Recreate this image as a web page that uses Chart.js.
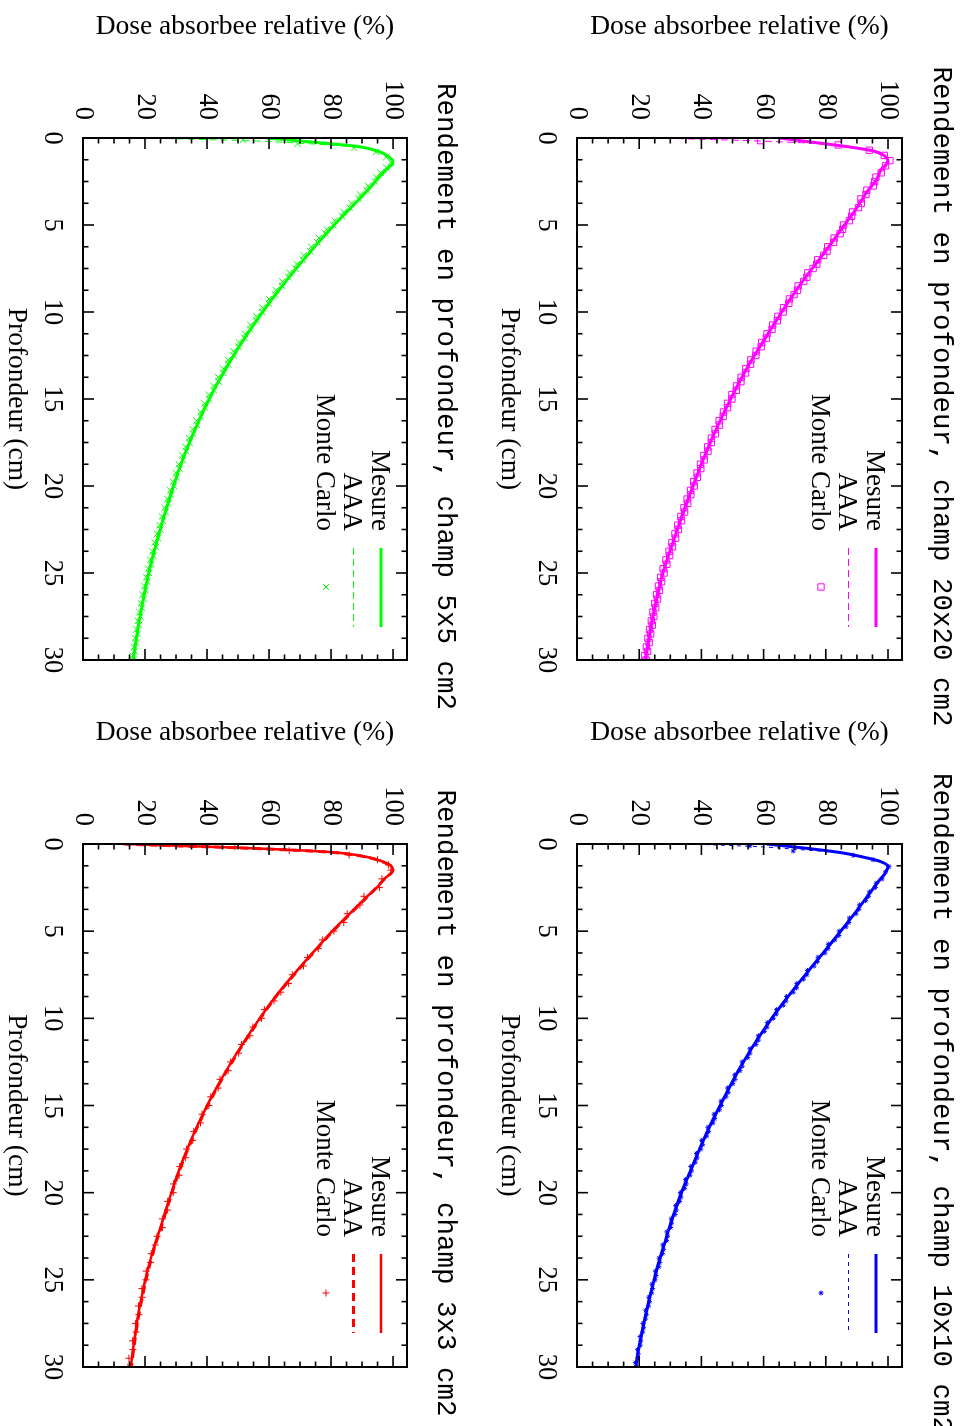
<!DOCTYPE html>
<html><head><meta charset="utf-8">
<script src="https://cdn.jsdelivr.net/npm/chart.js@4/dist/chart.umd.min.js"></script>
<style>
html,body{margin:0;padding:0;background:#fff;}
body{width:962px;height:1426px;overflow:hidden;position:relative;}
#wrap{position:absolute;left:0;top:0;width:1426px;height:962px;transform-origin:0 0;transform:translate(962px,0) rotate(90deg);background:#fff;}
#wrap canvas{position:absolute;}
</style></head><body><div id="wrap">
<canvas id="c20" width="780" height="481" style="left:0;top:0"></canvas>
<canvas id="c5" width="780" height="481" style="left:0;top:481px"></canvas>
<canvas id="c10" width="713" height="481" style="left:713px;top:0"></canvas>
<canvas id="c3" width="713" height="481" style="left:713px;top:481px"></canvas>
</div>
<script>
const depthTicks = [0,5,10,15,20,25,30];
const doseTicks = [0,20,40,60,80,100];
const legendLabels = ['Mesure','AAA','Monte Carlo'];
const xTitle = 'Profondeur (cm)';
const yTitle = 'Dose absorbee relative (%)';
const panelTitles = ['Rendement en profondeur, champ 20x20 cm2','Rendement en profondeur, champ 10x10 cm2','Rendement en profondeur, champ 5x5 cm2','Rendement en profondeur, champ 3x3 cm2'];

// Monte Carlo depth grid (cm), 0.25 cm steps from 2 to 30
const mcGrid = [2,2.25,2.5,2.75,3,3.25,3.5,3.75,4,4.25,4.5,4.75,5,5.25,5.5,5.75,6,6.25,6.5,6.75,7,7.25,7.5,7.75,8,8.25,8.5,8.75,9,9.25,9.5,9.75,10,10.25,10.5,10.75,11,11.25,11.5,11.75,12,12.25,12.5,12.75,13,13.25,13.5,13.75,14,14.25,14.5,14.75,15,15.25,15.5,15.75,16,16.25,16.5,16.75,17,17.25,17.5,17.75,18,18.25,18.5,18.75,19,19.25,19.5,19.75,20,20.25,20.5,20.75,21,21.25,21.5,21.75,22,22.25,22.5,22.75,23,23.25,23.5,23.75,24,24.25,24.5,24.75,25,25.25,25.5,25.75,26,26.25,26.5,26.75,27,27.25,27.5,27.75,28,28.25,28.5,28.75,29,29.25,29.5,29.75,30];

// 20x20
const mesDepth20 = [0,0.25,0.5,0.75,1,1.35,1.8,2.5,3,4,5,6,7,8,9,10,11,12,13,14,15,16,17,18,19,20,21,22,23,24,25,26,27,28,29,30];
const mes20 = [65,76,87,95.5,98.7,100,97.8,96,93.6,90,86,82,77.8,73.5,69.5,65.8,62.3,58.8,55.4,52.3,49.4,46.7,44.1,41.7,39.4,37.3,35.2,33.2,31.3,29.4,27.6,26.2,25,23.9,22.9,21.9];
const aaaDepth20 = [0,0.15,0.3,0.5,0.75,1,1.4,2,3,4,5,6,7,8,9,10,11,12,13,14,15,16,17,18,19,20,21,22,23,24,25,26,27,28,29,30];
const aaa20 = [25,55,75,86,94,98,100,98,93.8,90.2,86.2,82.1,77.7,73.6,69.6,65.9,62.4,58.9,55.5,52.4,49.5,46.8,44.2,41.8,39.5,37.4,35.3,33.3,31.4,29.5,27.7,26.3,25.1,24,23,22];
const mcDepth20 = [0.15,0.4,0.7,1,1.3,1.6].concat(mcGrid);
const mc20 = [59,84,94,98.8,100.6,99.2,
 97.8,96.1,95.7,95.3, 93.2,92.9,91.3,91.4, 90.5,88.6,88.3,87.6, 85.7,85.4,84.6,82.7, 82.5,80.6,80.4,79.3,
 77.4,77.1,75.9,74.2, 73.9,72.9,71.1,70.9, 69.8,68.3,68.1,66.4, 66.3,64.6,64.4,62.9, 62.7,61.1,60.9,59.4,
 59.2,57.6,57.5,55.9, 55.8,54.3,54.2,52.8, 52.7,51.3,51.2,49.8, 49.8,48.4,48.4,47.1, 47.0,45.7,45.8,44.4,
 44.5,43.2,43.2,42.0, 42.1,40.8,40.9,39.7, 39.8,38.6,38.7,37.5, 37.7,36.5,36.6,35.4, 35.6,34.4,34.6,33.4,
 33.6,32.4,32.6,31.5, 31.7,30.5,30.7,29.6, 29.8,28.6,28.9,27.7, 28.0,26.9,27.2,26.2, 26.5,25.6,25.9,25.0,
 25.3,24.4,24.7,23.9, 24.2,23.3,23.7,22.8, 23.2,22.3,22.7,21.8, 22.2];

// 10x10
const mesDepth10 = [0,0.25,0.5,0.75,1,1.3,1.7,2,3,4,5,6,7,8,9,10,11,12,13,14,15,16,17,18,19,20,21,22,23,24,25,26,27,28,29,30];
const mes10 = [61,74,85,92,97.5,100,99,97.6,93.4,89.2,84.8,80.3,75.7,71.2,66.8,62.6,58.8,55.2,51.9,48.9,46,43.2,40.6,38.2,35.9,33.6,31.6,29.7,28,26.3,24.8,23.4,22.1,20.9,19.8,18.9];
const aaaDepth10 = [0,0.15,0.3,0.5,0.75,1,1.3,2,3,4,5,6,7,8,9,10,11,12,13,14,15,16,17,18,19,20,21,22,23,24,25,26,27,28,29,30];
const aaa10 = [36,58,70,84,92,97,99.8,97.5,93.5,89.3,84.9,80.4,75.8,71.3,66.9,62.7,58.9,55.3,52,49,46.1,43.3,40.7,38.3,36,33.7,31.7,29.8,28.1,26.4,24.9,23.5,22.2,21,19.9,19];
const mcDepth10 = [0.1,0.4,0.65,0.9,1.3,1.6].concat(mcGrid);
const mc10 = [55.6,69.5,88.8,95.2,100.3,99.2,
 98.1,96.2,95.9,94.0, 93.7,92.8,90.8,90.6, 89.7,87.6,87.4,86.5, 84.3,84.2,82.9,80.8, 80.7,79.7,77.5,77.3,
 76.2,74.1,73.9,72.8, 70.7,70.6,69.5,67.4, 67.2,66.3,64.2,64.1, 63.1,61.2,61.1,60.2, 58.3,58.3,57.5,55.6,
 55.6,54.9,53.1,53.1, 52.4,50.7,50.8,50.1, 48.4,48.6,47.9,46.3, 46.4,45.8,44.1,44.3, 43.7,42.1,42.3,41.7,
 40.1,40.4,39.8,38.4, 38.6,38.0,36.6,36.8, 36.3,34.9,35.1,34.6, 33.2,33.4,33.0,31.7, 31.9,31.5,30.3,30.4,
 30.1,28.9,29.1,28.8, 27.6,27.8,27.5,26.4, 26.6,26.3,25.2,25.4, 25.1,24.1,24.3,24.0, 23.1,23.3,23.0,22.1,
 22.3,22.0,21.2,21.4, 21.1,20.3,20.5,20.3, 19.5,19.7,19.5,18.8, 19.0];

// 5x5
const mesDepth5 = [0,0.25,0.5,0.75,1,1.4,1.7,2,2.5,3,4,5,6,7,8,9,10,11,12,13,14,15,16,17,18,19,20,21,22,23,24,25,26,27,28,29,30];
const mes5 = [59,75,89,95,98,100,98.6,96.8,94.3,91.8,86.4,81,75.9,71.1,66.5,62.1,57.9,54,50.3,46.9,43.7,40.7,38,35.5,33.2,31.1,29.2,27.4,25.7,24.1,22.6,21.2,20,18.9,17.9,17,16.2];
const aaaDepth5 = [0,0.15,0.3,0.5,0.75,1,1.4,2,3,4,5,6,7,8,9,10,11,12,13,14,15,16,17,18,19,20,21,22,23,24,25,26,27,28,29,30];
const aaa5 = [19.5,52,70,87,94.5,97.8,100,97,92.1,86.7,81.3,76.2,71.3,66.7,62.3,58.1,54.2,50.5,47.1,43.9,40.9,38.2,35.7,33.4,31.3,29.4,27.6,25.9,24.3,22.8,21.4,20.2,19.1,18.1,17.2,16.4];
const mcDepth5 = [0.1,0.33,0.56,0.8,1.1,1.4,1.7].concat(mcGrid);
const mc5 = [51.6,69.2,87.4,94.5,97.8,99.3,97.8,
 96.0,94.6,94.1,91.9, 91.5,89.4,88.9,86.6, 86.0,84.1,83.5,81.2, 80.7,78.6,78.2,76.1, 75.6,73.6,73.3,71.2,
 70.9,68.9,68.6,66.6, 66.3,64.3,64.2,62.2, 62.0,60.0,59.9,57.9, 57.8,55.9,55.9,54.0, 53.9,52.2,52.1,50.3,
 50.2,48.5,48.6,46.8, 46.9,45.2,45.3,43.6, 43.7,42.1,42.2,40.6, 40.7,39.2,39.4,37.9, 38.0,36.6,36.8,35.4,
 35.5,34.2,34.4,33.1, 33.3,32.0,32.2,30.9, 31.2,29.9,30.2,29.0, 29.3,28.1,28.4,27.2, 27.5,26.3,26.7,25.5,
 25.8,24.7,25.0,23.9, 24.2,23.1,23.5,22.4, 22.7,21.7,22.0,21.0, 21.3,20.4,20.7,19.8, 20.1,19.2,19.6,18.7,
 19.0,18.2,18.5,17.7, 18.0,17.2,17.6,16.8, 17.1,16.4,16.7,16.0, 16.3];

// 3x3
const mesDepth3 = [0,0.1,0.2,0.3,0.45,0.6,0.8,1,1.2,1.5,2,2.5,3,4,5,6,7,8,9,10,11,12,13,14,15,16,17,18,19,20,21,22,23,24,25,26,27,28,29,30];
const mes3 = [14,30,48,62,79,87,93,96.5,99,100,97.2,94.8,91.7,86,80.4,75.3,70.3,65.5,61,57,53.2,49.6,46.2,43,40,37.3,34.8,32.5,30.4,28.5,26.7,25,23.1,21.5,20.1,18.9,17.8,16.9,16.1,15.4];
const aaaDepth3 = [0,0.1,0.2,0.3,0.45,0.6,0.8,1,1.2,1.5,2,3,4,5,6,7,8,9,10,11,12,13,14,15,16,17,18,19,20,21,22,23,24,25,26,27,28,29,30];
const aaa3 = [13,29,47,61,78,86.5,92.6,96.3,98.8,99.9,97.3,91.9,86.2,80.6,75.5,70.5,65.7,61.2,57.2,53.4,49.8,46.4,43.2,40.2,37.5,35,32.7,30.6,28.7,26.9,25.2,23.3,21.7,20.3,19.1,18,17.1,16.3,15.6];
const mcDepth3 = [0.15,0.38,0.63,0.9,1.2,1.5,2,2.5,3,3.5,4,4.5,5,5.5,6,6.5,7,7.5,8,8.5,9,9.5,10,10.5,11,11.5,12,12.5,13,13.5,14,14.5,15,15.5,16,16.5,17,17.5,18,18.5,19,19.5,20,20.5,21,21.5,22,22.5,23,23.5,24,24.5,25,25.5,26,26.5,27,27.5,28,28.5,29,29.5,30];
const mc3 = [49,66.5,85.8,95,98.5,99.3,96.4,95.6,90.6,89.3,85.2,84.1,80.9,77.2,75.9,72.4,71.1,67.5,66.3,63.8,61.6,58.5,57.6,54.8,53.8,51.1,50.2,47.6,46.8,44.2,43.6,41.2,40.6,38.4,37.9,35.7,35.4,33.4,33.1,31.2,31.0,29.2,29.1,27.3,27.3,25.6,25.6,23.9,23.3,22.0,21.8,20.4,20.3,19.0,19.1,17.9,18.0,16.9,17.1,16.0,16.1,14.8,14.5];

const SERIF = "'Liberation Serif', 'Times New Roman', serif";
Chart.defaults.font.family = SERIF;
Chart.defaults.color = '#000';

function pts(xs, ys){ return xs.map((d,i)=>({x:d, y:ys[i]})); }

const framePlugin = {
  id:'frame',
  afterDatasetsDraw(chart){
    const {ctx, chartArea:a, scales:{x, y}} = chart;
    ctx.save();
    ctx.strokeStyle = '#000'; ctx.lineWidth = 1.6;
    const seg = (x1,y1,x2,y2)=>{ctx.beginPath();ctx.moveTo(x1,y1);ctx.lineTo(x2,y2);ctx.stroke();};
    const sub = arr => { const out=[]; for(let i=0;i<arr.length-1;i++){ const st=(arr[i+1]-arr[i])/4; for(let k=1;k<4;k++) out.push(arr[i]+k*st);} return out; };
    depthTicks.forEach(v=>{const p=x.getPixelForValue(v); seg(p,a.bottom,p,a.bottom-11); seg(p,a.top,p,a.top+11);});
    sub(depthTicks).forEach(v=>{const p=x.getPixelForValue(v); seg(p,a.bottom,p,a.bottom-5.5); seg(p,a.top,p,a.top+5.5);});
    doseTicks.forEach(v=>{const p=y.getPixelForValue(v); seg(a.left,p,a.left+11,p); seg(a.right,p,a.right-11,p);});
    sub(doseTicks).forEach(v=>{const p=y.getPixelForValue(v); seg(a.left,p,a.left+5.5,p); seg(a.right,p,a.right-5.5,p);});
    ctx.lineWidth = 2;
    ctx.strokeRect(a.left, a.top, a.width, a.height);
    ctx.restore();
  }
};

const legendPlugin = {
  id:'legendBox',
  afterDatasetsDraw(chart){
    const {ctx, chartArea:a} = chart;
    const rows = [26, 53.5, 81];
    ctx.save();
    ctx.font = "27px " + SERIF;
    ctx.textAlign = 'right'; ctx.textBaseline = 'middle';
    chart.data.datasets.forEach((ds,i)=>{
      const yy = a.top + rows[i];
      ctx.fillStyle = '#000';
      ctx.fillText(ds.label, a.left + 393, yy + 2);
      ctx.strokeStyle = ds.borderColor;
      if (ds.showLine) {
        ctx.lineWidth = ds.borderWidth;
        ctx.setLineDash(ds.borderDash || []);
        ctx.beginPath(); ctx.moveTo(a.left + 410, yy); ctx.lineTo(a.left + 489, yy); ctx.stroke();
        ctx.setLineDash([]);
      } else {
        ctx.lineWidth = 1;
        ctx.fillStyle = 'rgba(0,0,0,0)';
        Chart.helpers.drawPoint(ctx, {pointStyle: ds.pointStyle, radius: ds.pointRadius, borderWidth: 1, rotation: 0}, a.left + 449, yy);
      }
    });
    ctx.restore();
  }
};

const titlePlugin = {
  id:'panelTitle',
  afterDraw(chart, args, opts){
    const {ctx, chartArea:a} = chart;
    ctx.save();
    ctx.font = "27.5px 'Liberation Mono', monospace";
    ctx.fillStyle = '#000';
    ctx.textAlign = 'center'; ctx.textBaseline = 'middle';
    ctx.fillText(opts.text, (a.left + a.right)/2 - 2.5, opts.y);
    ctx.restore();
  }
};

const panels = [
  {id:'c20', w:780, title:panelTitles[0], color:'#ff00ff', mesD:mesDepth20, mesV:mes20, aaaD:aaaDepth20, aaaV:aaa20, mcD:mcDepth20, mcV:mc20, ps:'rect', pr:4.5, mesW:3, aaaW:1, dash:[7,4],
   g:{left:138, right:660, top:60, bottom:385, titleY:21, yTitleX:27, xTitleY:453}},
  {id:'c10', w:713, title:panelTitles[1], color:'#0000ff', mesD:mesDepth10, mesV:mes10, aaaD:aaaDepth10, aaaV:aaa10, mcD:mcDepth10, mcV:mc10, ps:'star', pr:2.5, mesW:3, aaaW:1, dash:[4,4],
   g:{left:131, right:654, top:60, bottom:385, titleY:21, yTitleX:20, xTitleY:453}},
  {id:'c5', w:780, title:panelTitles[2], color:'#00ff00', mesD:mesDepth5, mesV:mes5, aaaD:aaaDepth5, aaaV:aaa5, mcD:mcDepth5, mcV:mc5, ps:'crossRot', pr:4.5, mesW:3, aaaW:1, dash:[7,4],
   g:{left:138, right:660, top:74, bottom:398, titleY:36, yTitleX:27, xTitleY:466}},
  {id:'c3', w:713, title:panelTitles[3], color:'#ff0000', mesD:mesDepth3, mesV:mes3, aaaD:aaaDepth3, aaaV:aaa3, mcD:mcDepth3, mcV:mc3, ps:'cross', pr:3.5, mesW:2.5, aaaW:3, dash:[8,5],
   g:{left:131, right:654, top:74, bottom:398, titleY:36, yTitleX:20, xTitleY:466}}
];

panels.forEach(p=>{
  const g = p.g;
  new Chart(document.getElementById(p.id), {
    type:'scatter',
    data:{datasets:[
      {label:legendLabels[0], data:pts(p.mesD,p.mesV), showLine:true, borderColor:p.color, backgroundColor:p.color, borderWidth:p.mesW, pointRadius:0, cubicInterpolationMode:'monotone', order:3},
      {label:legendLabels[1], data:pts(p.aaaD,p.aaaV), showLine:true, borderColor:p.color, backgroundColor:p.color, borderWidth:p.aaaW, borderDash:p.dash, pointRadius:0, cubicInterpolationMode:'monotone', order:2},
      {label:legendLabels[2], data:pts(p.mcD,p.mcV), showLine:false, borderColor:p.color, backgroundColor:'rgba(0,0,0,0)', pointStyle:p.ps, pointRadius:p.pr, pointBorderWidth:1, order:1}
    ]},
    options:{
      responsive:false, animation:false, devicePixelRatio:1,
      layout:{padding:{left:0, right:p.w - g.right, top:g.top, bottom:0}},
      plugins:{
        legend:{display:false}, tooltip:{enabled:false}, title:{display:false},
        panelTitle:{text:p.title, y:g.titleY}
      },
      scales:{
        x:{type:'linear', position:'bottom', min:0, max:30,
          grid:{display:false, drawTicks:false}, border:{display:false},
          afterBuildTicks:s=>{ s.ticks = depthTicks.map(v=>({value:v})); },
          afterFit:s=>{ s.height = 481 - g.bottom; },
          ticks:{font:{size:26.5}, padding:15, maxRotation:0, autoSkip:false, color:'#000'},
          title:{display:true, text:xTitle, color:'#000', font:{size:27.5, lineHeight:1.2}, padding:{top:0, bottom:Math.max(0, 481 - g.xTitleY - 16.5)}}},
        y:{type:'linear', position:'left', min:0, max:104.5,
          grid:{display:false, drawTicks:false}, border:{display:false},
          afterBuildTicks:s=>{ s.ticks = doseTicks.map(v=>({value:v})); },
          afterFit:s=>{ s.width = g.left; },
          ticks:{font:{size:26.5}, padding:18, autoSkip:false, color:'#000'},
          title:{display:true, text:yTitle, color:'#000', font:{size:27.5, lineHeight:1.2}, padding:{top:g.yTitleX - 16.5, bottom:0}}}
      }
    },
    plugins:[framePlugin, legendPlugin, titlePlugin]
  });
});
</script>
</body></html>
